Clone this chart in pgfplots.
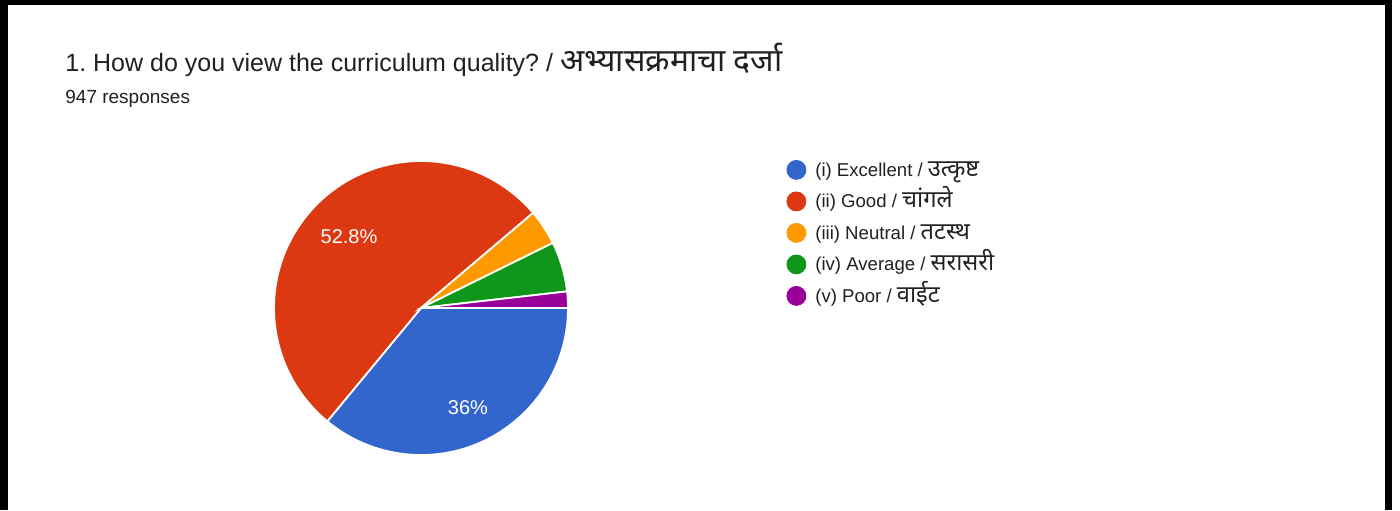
\documentclass[border=0pt]{standalone}
\usepackage{fontspec}
\setmainfont{Liberation Sans}
\newfontfamily\deva[Script=Devanagari, Scale=1.27]{Noto Sans}
\usepackage{pgfplots}
\pgfplotsset{compat=1.18}
\frenchspacing

\definecolor{pieblue}{HTML}{3366CC}
\definecolor{piered}{HTML}{DC3912}
\definecolor{pieorange}{HTML}{FF9900}
\definecolor{piegreen}{HTML}{109618}
\definecolor{piepurple}{HTML}{990099}
\definecolor{textgray}{HTML}{202124}

\newcommand\pielabelfont{\fontsize{10}{12}\selectfont}

\begin{document}
\begin{tikzpicture}
\begin{axis}[
    x=0.5pt, y=0.5pt, scale only axis,
    xmin=0, xmax=1400, ymin=0, ymax=510,
    y dir=reverse,% pixel-like coordinates, origin top left
    hide axis, clip=false,
    legend cell align=left,
    legend style={at={(axis cs:786.5,160)}, anchor=north west,
        draw=none, fill=none, inner sep=0pt, outer sep=0pt,
        font=\fontsize{9.3}{11}\selectfont, text=textgray,
        row sep=5.05pt,
        nodes={inner sep=0pt, text height=8pt, text depth=2.5pt},
        /tikz/every odd column/.append style={column sep=4.5pt}},
]
% page background and frame
\fill[white] (axis cs:0,0) rectangle (axis cs:1400,510);
\fill[black] (axis cs:0,0) rectangle (axis cs:1392,5);
\fill[black] (axis cs:0,0) rectangle (axis cs:8,510);
\fill[black] (axis cs:1385,0) rectangle (axis cs:1392,510);

% pie: percent / colour / label / label radius, clockwise from 3 o'clock
\xdef\angstart{0}
\foreach \p/\c/\l/\r in {36.0/pieblue/36/55.2, 52.8/piered/52.8/50.6, 3.9/pieorange/3.9/0, 5.5/piegreen/5.5/0, 1.8/piepurple/1.8/0} {
    \pgfmathsetmacro\angend{\angstart-3.6*\p}
    \pgfmathsetmacro\angmid{(\angstart+\angend)/2}
    \edef\temp{\noexpand\fill[\c, draw=white, line width=0.9pt] (axis cs:421,308) -- ++(\angstart:73.5pt) arc[start angle=\angstart, end angle=\angend, radius=73.5pt] -- cycle;}
    \temp
    \ifdim\p pt>10pt
        \edef\temp{\noexpand\path (axis cs:421,308) ++(\angmid:\r pt) node[text=white, font=\noexpand\pielabelfont] {\l\noexpand\%};}
        \temp
    \fi
    \xdef\angstart{\angend}
}

\node[anchor=base west, inner sep=0pt, text=textgray, font=\fontsize{12.5}{14}\selectfont] at (axis cs:65,71)
    {1. How do you view the curriculum quality? / {\deva अभ्यासक्रमाचा दर्जा}};
\node[anchor=base west, inner sep=0pt, text=textgray, font=\fontsize{9.5}{11}\selectfont] at (axis cs:65,103)
    {947 responses};

\addlegendimage{legend image code/.code={\fill[pieblue] (0pt,0.5pt) circle[radius=4.75pt];}}
\addlegendentry{(i) Excellent / {\deva उत्कृष्ट}}
\addlegendimage{legend image code/.code={\fill[piered] (0pt,0.5pt) circle[radius=4.75pt];}}
\addlegendentry{(ii) Good / {\deva चांगले}}
\addlegendimage{legend image code/.code={\fill[pieorange] (0pt,0.5pt) circle[radius=4.75pt];}}
\addlegendentry{(iii) Neutral / {\deva तटस्थ}}
\addlegendimage{legend image code/.code={\fill[piegreen] (0pt,0.5pt) circle[radius=4.75pt];}}
\addlegendentry{(iv) Average / {\deva सरासरी}}
\addlegendimage{legend image code/.code={\fill[piepurple] (0pt,0.5pt) circle[radius=4.75pt];}}
\addlegendentry{(v) Poor / {\deva वाईट}}
\end{axis}
\end{tikzpicture}
\end{document}
